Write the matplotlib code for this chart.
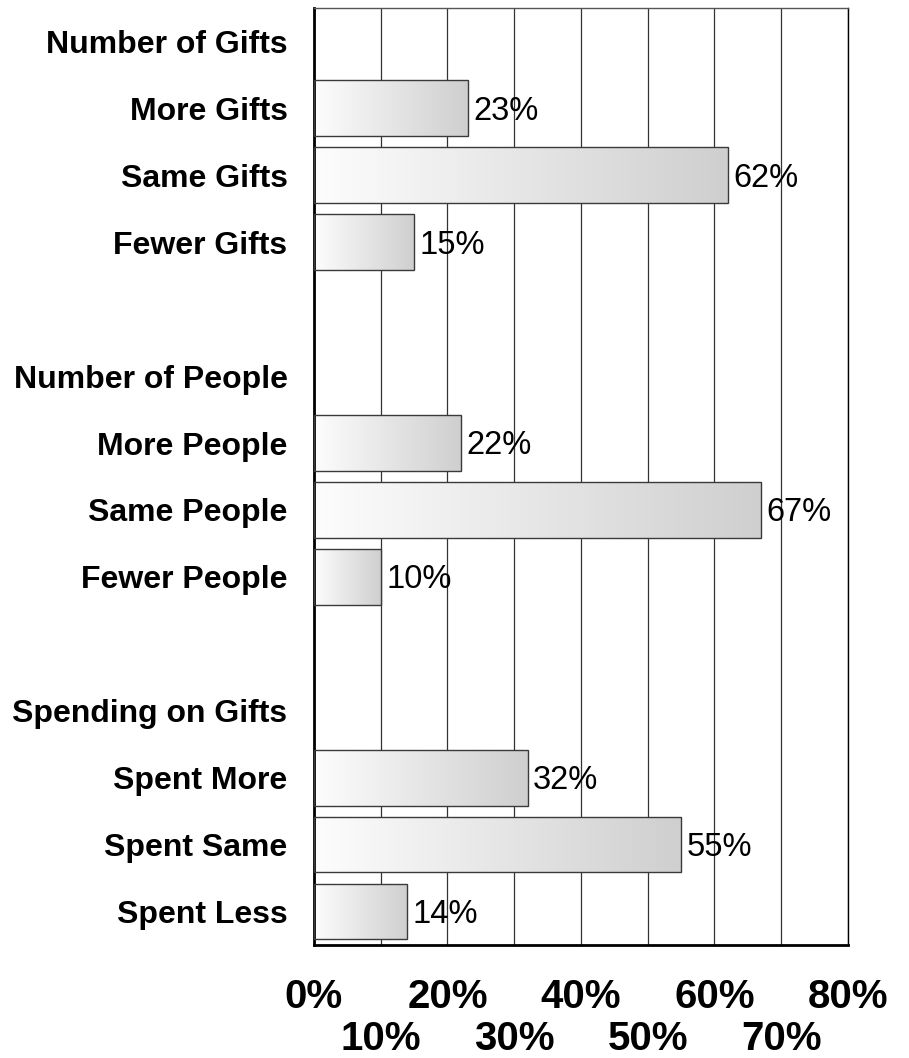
import numpy as np
import matplotlib
matplotlib.use("Agg")
import matplotlib.pyplot as plt
from matplotlib.colors import LinearSegmentedColormap

plt.rcParams['font.family'] = ['Liberation Sans', 'DejaVu Sans']

# survey groups, answers and shares (%)
groups = ["Number of Gifts", "Number of People", "Spending on Gifts"]
answers = [
    ["More Gifts", "Same Gifts", "Fewer Gifts"],
    ["More People", "Same People", "Fewer People"],
    ["Spent More", "Spent Same", "Spent Less"],
]
shares = [
    [23, 62, 15],
    [22, 67, 10],
    [32, 55, 14],
]
major_ticks = [0, 20, 40, 60, 80]
minor_ticks = [10, 30, 50, 70]

# flatten into one row per line: header, three answers, blank spacer
labels, values = [], []
for k, (g, ans, val) in enumerate(zip(groups, answers, shares)):
    labels.append(g)
    values.append(None)
    labels.extend(ans)
    values.extend(val)
    if k < len(groups) - 1:
        labels.append("")
        values.append(None)

rows = np.arange(len(labels))

fig = plt.figure(figsize=(9.09, 10.58), dpi=100)
ax = fig.add_axes([0.3454, 0.1069, 0.5875, 0.8855])

grad_cmap = LinearSegmentedColormap.from_list("bar", ["#fdfdfd", "#cfcfcf"])
gradient = np.linspace(0, 1, 256).reshape(1, -1)
bar_h = 0.835

for r, v in zip(rows, values):
    if v is None:
        continue
    bar = ax.barh(r, v, height=bar_h, facecolor="none",
                  edgecolor="#3a3a3a", linewidth=1.0, zorder=3)[0]
    im = ax.imshow(gradient, extent=[0, v, r - bar_h / 2, r + bar_h / 2],
                   aspect="auto", cmap=grad_cmap, origin="lower",
                   interpolation="bilinear", zorder=2)
    im.set_clip_path(bar)
    ax.annotate(f"{v}%", xy=(v, r), xytext=(4, -2), textcoords="offset points",
                ha="left", va="center", fontsize=23.5, zorder=4)

ax.set_xlim(0, 80)
ax.set_ylim(len(labels) - 0.5, -0.5)
ax.set_aspect("auto")

ax.set_yticks(rows)
ax.set_yticklabels(labels, fontsize=23, fontweight="bold")
ax.tick_params(axis="y", length=0, pad=19)

ax.set_xticks(major_ticks)
ax.set_xticklabels([f"{t}%" for t in major_ticks], fontsize=29, fontweight="bold")
ax.set_xticks(minor_ticks, minor=True)
ax.set_xticklabels([f"{t}%" for t in minor_ticks], minor=True,
                   fontsize=29, fontweight="bold")
ax.tick_params(axis="x", which="major", length=0, pad=24)
ax.tick_params(axis="x", which="minor", length=0, pad=54)

ax.grid(axis="x", which="both", color="#333333", linewidth=0.9, zorder=1)
ax.set_axisbelow(True)

ax.spines["left"].set_linewidth(2.0)
ax.spines["bottom"].set_linewidth(2.0)
ax.spines["right"].set_linewidth(1.0)
ax.spines["top"].set_linewidth(1.0)
ax.spines["top"].set_color("#555555")

fig.savefig("out.png", dpi=100)
